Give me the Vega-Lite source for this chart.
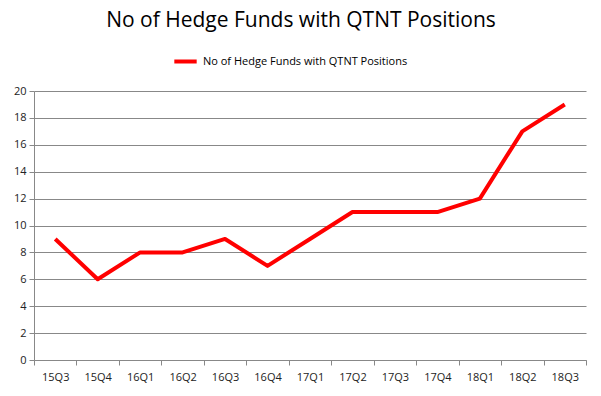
{
  "$schema": "https://vega.github.io/schema/vega-lite/v6.json",
  "width": 552,
  "height": 269,
  "autosize": {"type": "none"},
  "padding": {"top": 91, "left": 34, "right": 15, "bottom": 36},
  "background": "white",
  "title": {
    "text": "No of Hedge Funds with QTNT Positions",
    "font": "Open Sans",
    "fontSize": 21,
    "fontWeight": "normal",
    "color": "#000000",
    "anchor": "middle",
    "dx": -9,
    "offset": 17
  },
  "data": {
    "values": [
      {"quarter": "15Q3", "funds": 9, "series": "No of Hedge Funds with QTNT Positions"},
      {"quarter": "15Q4", "funds": 6, "series": "No of Hedge Funds with QTNT Positions"},
      {"quarter": "16Q1", "funds": 8, "series": "No of Hedge Funds with QTNT Positions"},
      {"quarter": "16Q2", "funds": 8, "series": "No of Hedge Funds with QTNT Positions"},
      {"quarter": "16Q3", "funds": 9, "series": "No of Hedge Funds with QTNT Positions"},
      {"quarter": "16Q4", "funds": 7, "series": "No of Hedge Funds with QTNT Positions"},
      {"quarter": "17Q1", "funds": 9, "series": "No of Hedge Funds with QTNT Positions"},
      {"quarter": "17Q2", "funds": 11, "series": "No of Hedge Funds with QTNT Positions"},
      {"quarter": "17Q3", "funds": 11, "series": "No of Hedge Funds with QTNT Positions"},
      {"quarter": "17Q4", "funds": 11, "series": "No of Hedge Funds with QTNT Positions"},
      {"quarter": "18Q1", "funds": 12, "series": "No of Hedge Funds with QTNT Positions"},
      {"quarter": "18Q2", "funds": 17, "series": "No of Hedge Funds with QTNT Positions"},
      {"quarter": "18Q3", "funds": 19, "series": "No of Hedge Funds with QTNT Positions"}
    ]
  },
  "mark": {"type": "line", "strokeWidth": 4, "strokeJoin": "round", "strokeCap": "butt"},
  "encoding": {
    "x": {
      "field": "quarter",
      "type": "ordinal",
      "sort": null,
      "scale": {"type": "band", "paddingInner": 0, "paddingOuter": 0},
      "axis": {
        "title": null,
        "labelAngle": 0,
        "tickBand": "extent",
        "grid": false,
        "domainColor": "#888888",
        "tickColor": "#888888",
        "tickSize": 5,
        "labelFont": "Open Sans",
        "labelFontSize": 11,
        "labelColor": "#222222",
        "labelPadding": 6
      }
    },
    "y": {
      "field": "funds",
      "type": "quantitative",
      "scale": {"domain": [0, 20], "nice": false},
      "axis": {
        "title": null,
        "values": [0, 2, 4, 6, 8, 10, 12, 14, 16, 18, 20],
        "gridColor": "#888888",
        "gridWidth": 1,
        "domainColor": "#888888",
        "tickColor": "#888888",
        "tickSize": 5,
        "labelFont": "Open Sans",
        "labelFontSize": 11,
        "labelColor": "#222222",
        "labelPadding": 3
      }
    },
    "color": {
      "field": "series",
      "type": "nominal",
      "scale": {"range": ["#ff0000"]},
      "legend": {
        "title": null,
        "orient": "none",
        "legendX": 138,
        "legendY": -43,
        "direction": "horizontal",
        "symbolType": "stroke",
        "symbolStrokeWidth": 4,
        "symbolSize": 500,
        "labelFont": "Open Sans",
        "labelFontSize": 11,
        "labelLimit": 0,
        "labelColor": "#000000"
      }
    }
  },
  "config": {
    "view": {"stroke": null}
  }
}
